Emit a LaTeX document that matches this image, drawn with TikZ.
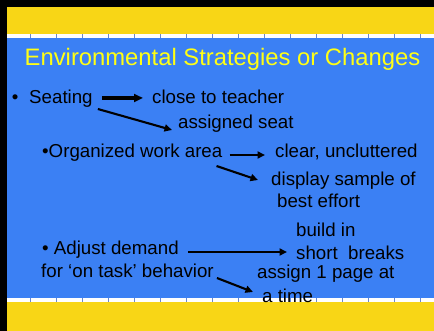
\documentclass[tikz,border=0pt]{standalone}
\usepackage{fontspec}
\setmainfont{Liberation Sans}
\usetikzlibrary{arrows.meta,calc}
\definecolor{slideblue}{RGB}{59,128,244}
\definecolor{slideyellow}{RGB}{248,214,22}
\definecolor{titleyellow}{RGB}{255,255,20}
\definecolor{gapblue}{RGB}{105,135,205}
\tikzset{
  txt/.style={anchor=base west,inner sep=0pt,font=\fontsize{18.7}{20}\selectfont,text=black},
  ttl/.style={anchor=base,inner sep=0pt,font=\fontsize{23.8}{26}\selectfont,text=titleyellow},
  arr/.style={line width=2.1pt,-{Triangle[length=7.5pt,width=7pt]}},
  thickarr/.style={line width=3.2pt,-{Triangle[length=9pt,width=8pt]}},
  rule/.style={line width=4pt}
}
\begin{document}
\begin{tikzpicture}[x=1pt,y=-1pt]
\useasboundingbox (0,0) rectangle (434,331);
% background
\fill[black] (0,0) rectangle (434,331);
\fill[slideyellow] (7,7) rectangle (434,331);
\fill[slideblue] (7,36) rectangle (434,300);
% dashed rules
\foreach \yy in {36,300}{
  \draw[rule,gapblue] (7,\yy) -- (434,\yy);
  \draw[rule,white,dash pattern=on 24.5pt off 1.5pt,dash phase=2pt] (7,\yy) -- (434,\yy);
}
% title
\node[ttl] (title) at (222.5,66) {Environmental Strategies or Changes};
% texts
\node[txt] (seat) at (11.7,104) {•\hspace{10.8pt}Seating};
\node[txt] (close) at (152,104) {close to teacher};
\node[txt] (assigned) at (178,129) {assigned seat};
\node[txt] (org) at (42,158) {•Organized work area};
\node[txt] (clear) at (275,158) {clear, uncluttered};
\node[txt] (display) at (271,186) {display sample of};
\node[txt] (best) at (277,208) {best effort};
\node[txt] (build) at (296,237) {build in};
\node[txt] (adj) at (42,255) {• Adjust demand};
\node[txt] (short) at (296,260) {short\ \ breaks};
\node[txt] (for) at (41,278) {for ‘on task’ behavior};
\node[txt] (assign) at (257,279) {assign 1 page at};
\node[txt] (atime) at (262,302) {a time};
% connectors
\draw[thickarr] ($(seat.base east)+(9,-6)$) -- ($(close.base west)+(-9,-6)$);
\draw[arr] ($(seat.base east)+(5,5)$) -- ($(assigned.base west)+(-6,1)$);
\draw[arr] ($(org.base east)+(7,-3)$) -- ($(clear.base west)+(-10,-3)$);
\draw[arr] ($(org.base east)+(-6,8)$) -- ($(display.base west)+(-13,-6)$);
\draw[arr] ($(adj.base east)+(9,-3)$) -- ($(short.base west)+(-9,-8)$);
\draw[arr] ($(for.base east)+(3,0)$) -- ($(atime.base west)+(-9,-10)$);
\end{tikzpicture}
\end{document}
